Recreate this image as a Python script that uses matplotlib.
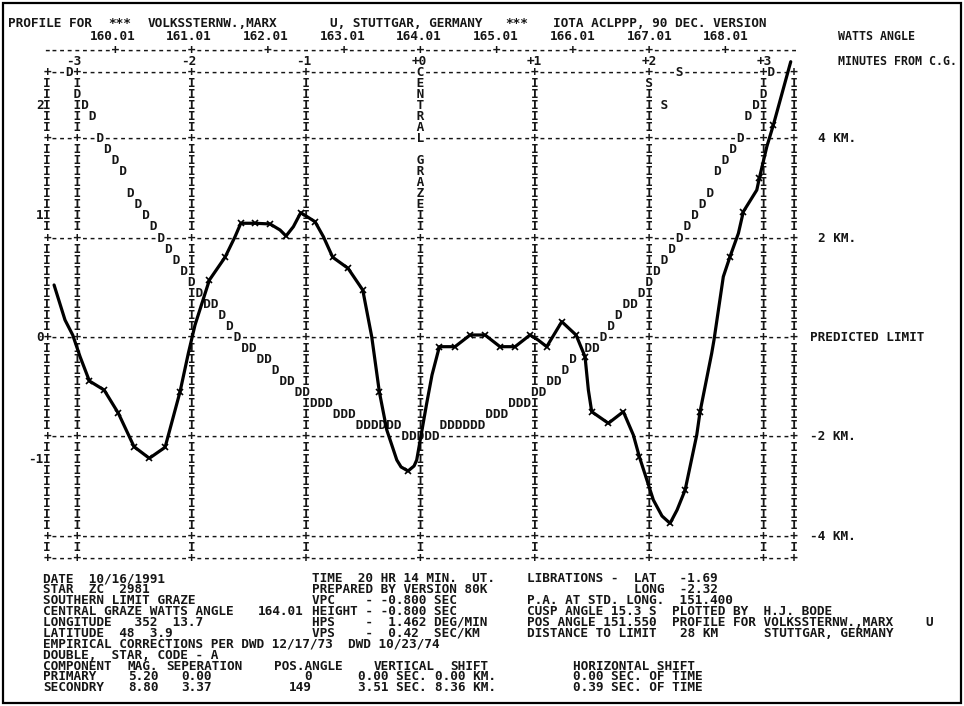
import numpy as np
import matplotlib.pyplot as plt
from matplotlib.patches import Rectangle

# Printer plot: 15 print columns per minute of time, 9 print lines per 2 km
COLS_PER_MIN = 15
ROWS_PER_KM = 4.5
CENTER_COL = 49
FS = 9.17
INK = '#161616'

# ---- chart data ----------------------------------------------------------
title_parts = [(-4.6, "PROFILE FOR"), (8.4, "***"), (13.6, "VOLKSSTERNW.,MARX"),
               (37.4, "U, STUTTGAR, GERMANY"), (60.2, "***"),
               (66.4, "IOTA ACLPPP, 90 DEC. VERSION")]
watts_angles = [160.01, 161.01, 162.01, 163.01, 164.01, 165.01, 166.01, 167.01, 168.01]
minute_ticks = [-3, -2, -1, 0, 1, 2, 3]
km_lines = [4, 2, 0, -2, -4]
km_labels = ["4 KM.", "2 KM.", "PREDICTED LIMIT", "-2 KM.", "-4 KM."]
km_label_cols = [101, 101, 100, 100, 100]
arcsec_ticks = [2, 1, 0, -1]

# predicted limb profile printed as 'D' (print line -> print columns)
limb_rows = [24, 22, 21, 20, 18, 17, 16, 15, 13, 12, 11, 10, 9, 8, 7, 6, 5, 4,
             3, 2, 1, 0, -1, -2, -3, -4, -5, -6, -7, -8, -9]
limb_cols = [[3, 95], [4, 94], [5, 93], [6, 92], [7, 91], [8, 90], [9, 89],
             [10, 88], [11, 87], [12, 86], [13, 85], [14, 84], [15, 83],
             [16, 82], [17, 81], [18, 80], [19, 79], [20, 78],
             [21, 22, 76, 77], [23, 75], [24, 74], [25, 73], [26, 27, 71, 72],
             [28, 29, 69], [30, 68], [31, 32, 66, 67], [33, 34, 64, 65],
             [35, 36, 37, 61, 62, 63], [38, 39, 40, 58, 59, 60],
             [41, 42, 43, 44, 45, 46, 52, 53, 54, 55, 56, 57],
             [47, 48, 49, 50, 51]]

# 'S' points
s_rows = [24, 23, 21]
s_cols = [83, 79, 81]

# hand drawn observed profile (minutes from C.G., km from predicted limit)
obs_min = [-3.208, -3.113, -3.046, -2.982, -2.901, -2.773, -2.649, -2.513, -2.380,
           -2.243, -2.113, -2.041, -1.983, -1.858, -1.722, -1.635, -1.585, -1.461,
           -1.331, -1.244, -1.192, -1.128, -1.064, -0.940, -0.867, -0.786, -0.653,
           -0.525, -0.447, -0.381, -0.316, -0.229, -0.192, -0.131, -0.079, -0.056,
           0.031, 0.077, 0.141, 0.277, 0.408, 0.538, 0.668, 0.799, 0.929, 0.999,
           1.074, 1.205, 1.329, 1.407, 1.436, 1.465, 1.610, 1.740, 1.827, 1.879,
           2.001, 2.076, 2.146, 2.207, 2.277, 2.378, 2.407, 2.508, 2.528, 2.609,
           2.667, 2.740, 2.783, 2.900, 2.922, 2.987, 3.044, 3.195]
obs_km = [1.056, 0.352, 0.050, -0.386, -0.875, -1.056, -1.524, -2.196, -2.429,
          -2.208, -1.090, -0.318, 0.251, 1.156, 1.613, 2.027, 2.297, 2.297,
          2.283, 2.162, 2.041, 2.228, 2.510, 2.329, 2.027, 1.613, 1.392,
          0.955, 0.016, -1.090, -1.860, -2.464, -2.604, -2.685, -2.584, -2.464,
          -1.323, -0.754, -0.185, -0.185, 0.050, 0.050, -0.185, -0.185, 0.050, -0.050,
          -0.185, 0.318, 0.050, -0.386, -1.056, -1.492, -1.725, -1.492, -1.961, -2.397,
          -3.268, -3.590, -3.737, -3.469, -3.067, -1.961, -1.492, -0.318, -0.050, 1.223,
          1.625, 2.095, 2.530, 2.966, 3.202, 3.837, 4.274, 5.546]
obs_mark = [0, 0, 0, 0, 1, 1, 1, 1, 1,
            1, 1, 0, 0, 1, 1, 0, 1, 1,
            1, 0, 1, 0, 1, 1, 0, 1, 1,
            1, 0, 1, 0, 0, 0, 1, 0, 0,
            0, 0, 1, 1, 1, 1, 1, 1, 1, 0,
            1, 1, 1, 1, 0, 1, 1, 1, 0, 1,
            0, 0, 1, 0, 1, 0, 1, 0, 0, 0,
            1, 0, 1, 0, 1, 0, 1, 0]

info_lines = [
    [(0, "DATE  10/16/1991"), (35, "TIME  20 HR 14 MIN.  UT."), (63, "LIBRATIONS -  LAT   -1.69")],
    [(0, "STAR  ZC  2981"), (35, "PREPARED BY VERSION 80K"), (77, "LONG  -2.32")],
    [(0, "SOUTHERN LIMIT GRAZE"), (35, "VPC    - -0.800 SEC"), (63, "P.A. AT STD. LONG.  151.400")],
    [(0, "CENTRAL GRAZE WATTS ANGLE"), (28, "164.01"), (35, "HEIGHT - -0.800 SEC"),
     (63, "CUSP ANGLE 15.3 S"), (82, "PLOTTED BY  H.J. BODE")],
    [(0, "LONGITUDE   352  13.7"), (35, "HPS    -  1.462 DEG/MIN"),
     (63, "POS ANGLE 151.550"), (82, "PROFILE FOR VOLKSSTERNW.,MARX"), (115, "U")],
    [(0, "LATITUDE  48  3.9"), (35, "VPS    -  0.42  SEC/KM"),
     (63, "DISTANCE TO LIMIT"), (83, "28 KM"), (94, "STUTTGAR, GERMANY")],
    [(0, "EMPIRICAL CORRECTIONS PER DWD 12/17/73  DWD 10/23/74")],
    [(0, "DOUBLE,  STAR, CODE - A")],
    [(0, "COMPONENT"), (11, "MAG."), (16, "SEPERATION"), (30, "POS.ANGLE"),
     (43, "VERTICAL"), (53, "SHIFT"), (69, "HORIZONTAL SHIFT")],
    [(0, "PRIMARY"), (11, "5.20"), (18, "0.00"), (34, "0"), (41, "0.00 SEC."),
     (51, "0.00 KM."), (69, "0.00 SEC. OF TIME")],
    [(0, "SECONDRY"), (11, "8.80"), (18, "3.37"), (32, "149"), (41, "3.51 SEC."),
     (51, "8.36 KM."), (69, "0.39 SEC. OF TIME")],
]


def col_x(c):
    return (c - CENTER_COL) / COLS_PER_MIN


def put(col, row, s, size=FS):
    ax.text(col_x(col - 0.5), row / ROWS_PER_KM, s, ha='left', va='center',
            family='DejaVu Sans Mono', fontsize=size, weight='bold', color=INK)


fig = plt.figure(figsize=(9.64, 7.06), dpi=100)
ax = fig.add_axes([0, 0, 1, 1])
ax.set_xlim(-3.678, 4.701)
ax.set_ylim(-7.411, 6.787)
ax.axis('off')

# ---- character grid of the printer plot ---------------------------------
row_top, row_bot = 24, -20
col_l, col_r = 0, 98
bar_cols = [col_l] + [CENTER_COL + COLS_PER_MIN * m for m in minute_ticks] + [col_r]
dash_rows = [row_top] + [int(round(v * ROWS_PER_KM)) for v in km_lines] + [row_bot]

grid = {}
for k in range(row_bot, row_top + 1):
    if k in dash_rows:
        line = ['-'] * (col_r + 1)
        for c in bar_cols:
            line[c] = '+'
    else:
        line = [' '] * (col_r + 1)
        for c in bar_cols:
            line[c] = 'I'
    grid[k] = line

for i, ch in enumerate("CENTRAL GRAZE"):
    grid[row_top - i][CENTER_COL] = ch
for k, cols in zip(limb_rows, limb_cols):
    for c in cols:
        grid[k][c] = 'D'
for k, c in zip(s_rows, s_cols):
    grid[k][c] = 'S'

for k, line in grid.items():
    put(0, k, ''.join(line))

# ---- header rows ---------------------------------------------------------
for c, s in title_parts:
    put(c, 28.4, s)
watts_line = ['-'] * (col_r + 1)
for w in watts_angles:
    c = int(round(CENTER_COL + (w - 164.01) * 10))
    watts_line[c] = '+'
    put(c - 3, 27.2, f"{w:.2f}")
put(0, 26, ''.join(watts_line))
for m in minute_ticks:
    put(CENTER_COL + COLS_PER_MIN * m - 1, 25, f"{m:+d}")
put(103.6, 27.2, "WATTS ANGLE", size=8.4)
put(103.6, 25, "MINUTES FROM C.G.", size=8.4)

# right and left scale labels
for v, lab, c in zip(km_lines, km_labels, km_label_cols):
    put(c, v * ROWS_PER_KM, lab)
for v in arcsec_ticks:
    r = np.sign(v) * np.floor(abs(v) * 10.5 + 0.5)
    put(-len(str(v)), r, str(v))

# ---- hand drawn observed profile ----------------------------------------
ax.plot(obs_min, obs_km, color='black', lw=2.3, solid_joinstyle='round',
        solid_capstyle='round', zorder=5)
mk = np.array(obs_mark, dtype=bool)
ax.plot(np.array(obs_min)[mk], np.array(obs_km)[mk], 'x', color='black',
        ms=5, mew=1.2, zorder=6)

# ---- text block under the plot ------------------------------------------
for i, parts in enumerate(info_lines):
    r = -21.85 - i * 0.985
    for c, s in parts:
        put(c, r, s)

fig.add_artist(Rectangle((0.003, 0.004), 0.994, 0.992, transform=fig.transFigure,
                         fill=False, lw=1.6, ec='black'))

fig.savefig('out.png', dpi=100)
